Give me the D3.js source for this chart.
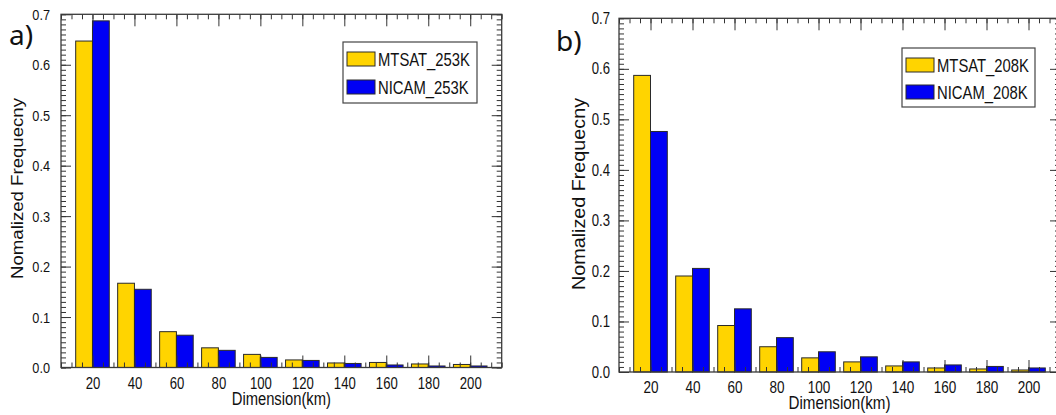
<!DOCTYPE html>
<html>
<head>
  <title>Normalized frequency by dimension</title>
  <script src="https://d3js.org/d3.v7.min.js"></script>
  <style>
    body { margin: 0; background: #fff; }
    text { fill: #111; }
  </style>
</head>
<body>

<div id="chart"></div>

<script>
// Data
const dims = [20, 40, 60, 80, 100, 120, 140, 160, 180, 200];
const mtsat253 = [0.647, 0.167, 0.071, 0.039, 0.026, 0.015, 0.009, 0.010, 0.007, 0.006];
const nicam253 = [0.687, 0.155, 0.064, 0.034, 0.020, 0.014, 0.008, 0.005, 0.003, 0.003];
const mtsat208 = [0.587, 0.190, 0.092, 0.050, 0.028, 0.020, 0.012, 0.008, 0.006, 0.004];
const nicam208 = [0.476, 0.205, 0.125, 0.068, 0.040, 0.030, 0.020, 0.014, 0.011, 0.008];
const yTickValues = [0, 0.1, 0.2, 0.3, 0.4, 0.5, 0.6, 0.7];
const xTickValues = dims;

const width = 1056;
const height = 415;
const helv = "'Liberation Sans', Arial, sans-serif";

const svg = d3.select("#chart")
  .append("svg")
  .attr("width", width)
  .attr("height", height);

const barW = 8; // bar width in km units

// squeeze text horizontally, the figure uses a condensed Helvetica
function condense(sel, k) {
  sel.each(function() {
    const len = this.getComputedTextLength();
    d3.select(this)
      .attr("textLength", len * k)
      .attr("lengthAdjust", "spacingAndGlyphs");
  });
}

function drawPanel(p) {
  const x = d3.scaleLinear().domain([5, 215]).range([p.left, p.right]);
  const y = d3.scaleLinear().domain([0, 0.7]).range([p.bottom, p.top]);
  const g = svg.append("g");

  // bars
  const series = [
    { vals: p.a, fill: "#FFD400", off: -barW },
    { vals: p.b, fill: "#0000F5", off: 0 }
  ];
  series.forEach(s => {
    g.selectAll(null)
      .data(dims.map((d, i) => ({ d: d, v: s.vals[i] })))
      .enter()
      .append("rect")
      .attr("x", d => x(d.d + s.off))
      .attr("width", x(barW) - x(0))
      .attr("y", d => y(d.v))
      .attr("height", d => y(0) - y(d.v))
      .attr("fill", s.fill)
      .attr("stroke", "#2a2a2a")
      .attr("stroke-width", 1);
  });

  const minorX = d3.range(5, 216, 5);
  const minorY = d3.range(0, 71).map(v => v / 100);
  const tickCol = "#333";

  function styleAxis(sel) {
    sel.select(".domain").remove();
    sel.selectAll("line").attr("stroke", tickCol).attr("stroke-width", 1);
  }

  // minor ticks on all four sides
  g.append("g").attr("transform", `translate(0,${p.bottom})`)
    .call(d3.axisBottom(x).tickValues(minorX).tickSize(-5).tickFormat("")).call(styleAxis);
  g.append("g").attr("transform", `translate(0,${p.top})`)
    .call(d3.axisTop(x).tickValues(minorX).tickSize(-5).tickFormat("")).call(styleAxis);
  g.append("g").attr("transform", `translate(${p.left},0)`)
    .call(d3.axisLeft(y).tickValues(minorY).tickSize(-5).tickFormat("")).call(styleAxis);
  g.append("g").attr("transform", `translate(${p.right},0)`)
    .call(d3.axisRight(y).tickValues(minorY).tickSize(-5).tickFormat("")).call(styleAxis);

  // major ticks
  const xb = g.append("g").attr("transform", `translate(0,${p.bottom})`)
    .call(d3.axisBottom(x).tickValues(xTickValues).tickSize(-12).tickFormat(d3.format("d")))
    .call(styleAxis);
  xb.selectAll("text")
    .attr("y", 21).attr("dy", 0)
    .style("font-family", helv).style("font-size", p.tickFont + "px").attr("fill", "#111")
    .call(condense, 0.82);
  g.append("g").attr("transform", `translate(0,${p.top})`)
    .call(d3.axisTop(x).tickValues(xTickValues).tickSize(-12).tickFormat("")).call(styleAxis);
  const yl = g.append("g").attr("transform", `translate(${p.left},0)`)
    .call(d3.axisLeft(y).tickValues(yTickValues).tickSize(-10).tickFormat(d3.format(".1f")))
    .call(styleAxis);
  yl.selectAll("text")
    .attr("x", -p.yPad)
    .style("font-family", helv).style("font-size", (p.tickFont - 0.5) + "px").attr("fill", "#111")
    .call(condense, 0.82);
  g.append("g").attr("transform", `translate(${p.right},0)`)
    .call(d3.axisRight(y).tickValues(yTickValues).tickSize(-10).tickFormat("")).call(styleAxis);

  // frame
  g.append("rect")
    .attr("x", p.left).attr("y", p.top)
    .attr("width", p.right - p.left).attr("height", p.bottom - p.top)
    .attr("fill", "none").attr("stroke", "#3a3a3a").attr("stroke-width", 1.3);

  // axis titles
  g.append("text")
    .attr("x", (p.left + p.right) / 2).attr("y", p.bottom + p.xTitleDy)
    .attr("text-anchor", "middle")
    .style("font-family", helv).style("font-size", p.titleFont + "px")
    .text("Dimension(km)")
    .call(condense, 0.82);
  g.append("text")
    .attr("transform", `translate(${p.yTitleX},${p.yTitleY}) rotate(-90)`)
    .attr("text-anchor", "middle")
    .attr("textLength", p.yTitleLen)
    .attr("lengthAdjust", "spacingAndGlyphs")
    .style("font-family", helv).style("font-size", p.yTitleFont + "px")
    .text("Nomalized Frequecny");

  // panel label
  g.append("text")
    .attr("x", p.labelX).attr("y", p.labelY)
    .style("font-family", "'Noto Sans', sans-serif").style("font-size", "28px")
    .text(p.label);

  // legend
  const L = p.legend;
  g.append("rect")
    .attr("x", L.x).attr("y", L.y).attr("width", L.w).attr("height", L.h)
    .attr("fill", "#fff").attr("stroke", "#444").attr("stroke-width", 1.2);
  [[p.names[0], "#FFD400"], [p.names[1], "#0000F5"]].forEach((s, i) => {
    const cy = L.y + L.row0 + i * L.step;
    g.append("rect")
      .attr("x", L.x + 4).attr("y", cy - 7).attr("width", 28).attr("height", 14)
      .attr("fill", s[1]).attr("stroke", "#2a2a2a").attr("stroke-width", 1);
    g.append("text")
      .attr("x", L.x + 35).attr("y", cy).attr("dy", "0.36em")
      .style("font-family", helv).style("font-size", "19px")
      .text(s[0])
      .call(condense, 0.78);
  });
}

drawPanel({
  left: 61, right: 501.7, top: 14.3, bottom: 367.5,
  a: mtsat253, b: nicam253, names: ["MTSAT_253K", "NICAM_253K"],
  yPad: 11, xTitleDy: 37, tickFont: 16, titleFont: 18,
  yTitleX: 23, yTitleY: 188.5, yTitleLen: 181, yTitleFont: 16,
  label: "a)", labelX: 9, labelY: 45,
  legend: { x: 343, y: 42, w: 134, h: 61, row0: 17, step: 28 }
});

drawPanel({
  left: 619, right: 1060, top: 18.3, bottom: 372,
  a: mtsat208, b: nicam208, names: ["MTSAT_208K", "NICAM_208K"],
  yPad: 9, xTitleDy: 37, tickFont: 16.5, titleFont: 18.5,
  yTitleX: 585, yTitleY: 194, yTitleLen: 192, yTitleFont: 17.5,
  label: "b)", labelX: 556, labelY: 51,
  legend: { x: 902, y: 48, w: 133, h: 59, row0: 17, step: 27 }
});
</script>

</body>
</html>
